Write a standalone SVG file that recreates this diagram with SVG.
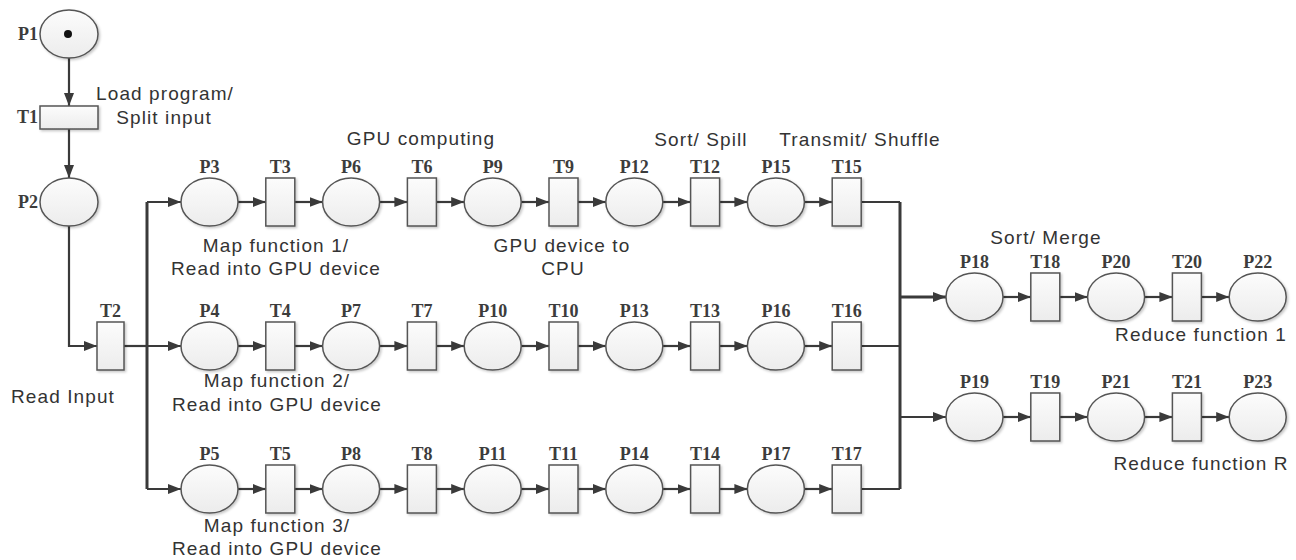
<svg xmlns="http://www.w3.org/2000/svg" width="1296" height="560" viewBox="0 0 1296 560">
<defs>
<linearGradient id="g" x1="0" y1="0" x2="0" y2="1"><stop offset="0" stop-color="#fcfcfc"/><stop offset="1" stop-color="#ececec"/></linearGradient>
<filter id="sh" x="-20%" y="-20%" width="150%" height="150%"><feDropShadow dx="1.5" dy="1.5" stdDeviation="1" flood-color="#000" flood-opacity="0.22"/></filter>
<marker id="ah" viewBox="0 0 13 10" refX="13" refY="5" markerWidth="13" markerHeight="10" markerUnits="userSpaceOnUse" orient="auto"><path d="M0,0 L13,5 L0,10 z" fill="#3a3a3a"/></marker>
</defs>
<style>
.pl{fill:url(#g);stroke:#555;stroke-width:1.5;filter:url(#sh)}
.tr{fill:url(#g);stroke:#555;stroke-width:1.5;filter:url(#sh)}
.lb{font-family:"Liberation Serif","Times New Roman",serif;font-size:18px;font-weight:bold;fill:#3c3c3c;text-anchor:middle}
.lbl{font-family:"Liberation Serif","Times New Roman",serif;font-size:18px;font-weight:bold;fill:#3c3c3c;text-anchor:end}
.tx{font-family:"Liberation Sans",Arial,sans-serif;font-size:19px;fill:#333;text-anchor:middle;letter-spacing:1.1px}
.e{stroke:#3a3a3a;stroke-width:2.2;fill:none}
.a{stroke:#3a3a3a;stroke-width:2.2;fill:none;marker-end:url(#ah)}
.b{stroke:#3a3a3a;stroke-width:3;fill:none}
</style>

<g id="connectors">
<path class="a" d="M69,58 V106"/>
<path class="a" d="M69,129 V178"/>
<path class="a" d="M69,226 V346 H97"/>
<path class="e" d="M124,346 H147"/>
<path class="b" d="M147,202 V489"/>
<path class="a" d="M147,202 H181"/>
<path class="a" d="M147,346 H181"/>
<path class="a" d="M147,489 H181"/>
<!-- row 1 -->
<path class="a" d="M238,202 H265.8"/><path class="a" d="M294.8,202 H322.6"/><path class="a" d="M379.6,202 H407.4"/><path class="a" d="M436.4,202 H464.2"/><path class="a" d="M521.2,202 H549"/><path class="a" d="M578,202 H605.8"/><path class="a" d="M662.8,202 H690.6"/><path class="a" d="M719.6,202 H747.4"/><path class="a" d="M804.4,202 H832.2"/><path class="e" d="M861.2,202 H900"/>
<!-- row 2 -->
<path class="a" d="M238,346 H265.8"/><path class="a" d="M294.8,346 H322.6"/><path class="a" d="M379.6,346 H407.4"/><path class="a" d="M436.4,346 H464.2"/><path class="a" d="M521.2,346 H549"/><path class="a" d="M578,346 H605.8"/><path class="a" d="M662.8,346 H690.6"/><path class="a" d="M719.6,346 H747.4"/><path class="a" d="M804.4,346 H832.2"/><path class="e" d="M861.2,346 H900"/>
<!-- row 3 -->
<path class="a" d="M238,489 H265.8"/><path class="a" d="M294.8,489 H322.6"/><path class="a" d="M379.6,489 H407.4"/><path class="a" d="M436.4,489 H464.2"/><path class="a" d="M521.2,489 H549"/><path class="a" d="M578,489 H605.8"/><path class="a" d="M662.8,489 H690.6"/><path class="a" d="M719.6,489 H747.4"/><path class="a" d="M804.4,489 H832.2"/><path class="e" d="M861.2,489 H900"/>
<path class="b" d="M900,202 V489"/>
<path class="a" d="M900,297 H946" style="stroke-width:3"/>
<path class="a" d="M900,417 H946"/>
<!-- reduce rows -->
<path class="a" d="M1003,297 H1030.8"/><path class="a" d="M1059.8,297 H1087.6"/><path class="a" d="M1144.6,297 H1172.4"/><path class="a" d="M1201.4,297 H1229.2"/>
<path class="a" d="M1003,417 H1030.8"/><path class="a" d="M1059.8,417 H1087.6"/><path class="a" d="M1144.6,417 H1172.4"/><path class="a" d="M1201.4,417 H1229.2"/>
</g>

<g id="P1"><ellipse class="pl" cx="69" cy="34" rx="29" ry="24"/><circle cx="68" cy="34" r="4" fill="#111"/><text class="lbl" x="38" y="40">P1</text></g>
<g id="T1"><rect class="tr" x="40" y="106" width="58" height="23"/><text class="lbl" x="38" y="123">T1</text></g>
<g id="P2"><ellipse class="pl" cx="69" cy="202" rx="29" ry="24"/><text class="lbl" x="38" y="208">P2</text></g>
<g id="T2"><rect class="tr" x="97" y="322" width="27" height="48"/><text class="lb" x="110.5" y="317">T2</text></g>

<g id="P3"><ellipse class="pl" cx="209.5" cy="202" rx="28.5" ry="24"/><text class="lb" x="209.5" y="173">P3</text></g>
<g id="T3"><rect class="tr" x="265.8" y="178" width="29" height="48"/><text class="lb" x="280.3" y="173">T3</text></g>
<g id="P6"><ellipse class="pl" cx="351.1" cy="202" rx="28.5" ry="24"/><text class="lb" x="351.1" y="173">P6</text></g>
<g id="T6"><rect class="tr" x="407.4" y="178" width="29" height="48"/><text class="lb" x="421.9" y="173">T6</text></g>
<g id="P9"><ellipse class="pl" cx="492.7" cy="202" rx="28.5" ry="24"/><text class="lb" x="492.7" y="173">P9</text></g>
<g id="T9"><rect class="tr" x="549" y="178" width="29" height="48"/><text class="lb" x="563.5" y="173">T9</text></g>
<g id="P12"><ellipse class="pl" cx="634.3" cy="202" rx="28.5" ry="24"/><text class="lb" x="634.3" y="173">P12</text></g>
<g id="T12"><rect class="tr" x="690.6" y="178" width="29" height="48"/><text class="lb" x="705.1" y="173">T12</text></g>
<g id="P15"><ellipse class="pl" cx="775.9" cy="202" rx="28.5" ry="24"/><text class="lb" x="775.9" y="173">P15</text></g>
<g id="T15"><rect class="tr" x="832.2" y="178" width="29" height="48"/><text class="lb" x="846.7" y="173">T15</text></g>

<g id="P4"><ellipse class="pl" cx="209.5" cy="346" rx="28.5" ry="24"/><text class="lb" x="209.5" y="317">P4</text></g>
<g id="T4"><rect class="tr" x="265.8" y="322" width="29" height="48"/><text class="lb" x="280.3" y="317">T4</text></g>
<g id="P7"><ellipse class="pl" cx="351.1" cy="346" rx="28.5" ry="24"/><text class="lb" x="351.1" y="317">P7</text></g>
<g id="T7"><rect class="tr" x="407.4" y="322" width="29" height="48"/><text class="lb" x="421.9" y="317">T7</text></g>
<g id="P10"><ellipse class="pl" cx="492.7" cy="346" rx="28.5" ry="24"/><text class="lb" x="492.7" y="317">P10</text></g>
<g id="T10"><rect class="tr" x="549" y="322" width="29" height="48"/><text class="lb" x="563.5" y="317">T10</text></g>
<g id="P13"><ellipse class="pl" cx="634.3" cy="346" rx="28.5" ry="24"/><text class="lb" x="634.3" y="317">P13</text></g>
<g id="T13"><rect class="tr" x="690.6" y="322" width="29" height="48"/><text class="lb" x="705.1" y="317">T13</text></g>
<g id="P16"><ellipse class="pl" cx="775.9" cy="346" rx="28.5" ry="24"/><text class="lb" x="775.9" y="317">P16</text></g>
<g id="T16"><rect class="tr" x="832.2" y="322" width="29" height="48"/><text class="lb" x="846.7" y="317">T16</text></g>

<g id="P5"><ellipse class="pl" cx="209.5" cy="489" rx="28.5" ry="24"/><text class="lb" x="209.5" y="460">P5</text></g>
<g id="T5"><rect class="tr" x="265.8" y="465" width="29" height="48"/><text class="lb" x="280.3" y="460">T5</text></g>
<g id="P8"><ellipse class="pl" cx="351.1" cy="489" rx="28.5" ry="24"/><text class="lb" x="351.1" y="460">P8</text></g>
<g id="T8"><rect class="tr" x="407.4" y="465" width="29" height="48"/><text class="lb" x="421.9" y="460">T8</text></g>
<g id="P11"><ellipse class="pl" cx="492.7" cy="489" rx="28.5" ry="24"/><text class="lb" x="492.7" y="460">P11</text></g>
<g id="T11"><rect class="tr" x="549" y="465" width="29" height="48"/><text class="lb" x="563.5" y="460">T11</text></g>
<g id="P14"><ellipse class="pl" cx="634.3" cy="489" rx="28.5" ry="24"/><text class="lb" x="634.3" y="460">P14</text></g>
<g id="T14"><rect class="tr" x="690.6" y="465" width="29" height="48"/><text class="lb" x="705.1" y="460">T14</text></g>
<g id="P17"><ellipse class="pl" cx="775.9" cy="489" rx="28.5" ry="24"/><text class="lb" x="775.9" y="460">P17</text></g>
<g id="T17"><rect class="tr" x="832.2" y="465" width="29" height="48"/><text class="lb" x="846.7" y="460">T17</text></g>

<g id="P18"><ellipse class="pl" cx="974.5" cy="297" rx="28.5" ry="24"/><text class="lb" x="974.5" y="268">P18</text></g>
<g id="T18"><rect class="tr" x="1030.8" y="273" width="29" height="48"/><text class="lb" x="1045.3" y="268">T18</text></g>
<g id="P20"><ellipse class="pl" cx="1116.1" cy="297" rx="28.5" ry="24"/><text class="lb" x="1116.1" y="268">P20</text></g>
<g id="T20"><rect class="tr" x="1172.4" y="273" width="29" height="48"/><text class="lb" x="1186.9" y="268">T20</text></g>
<g id="P22"><ellipse class="pl" cx="1257.7" cy="297" rx="28.5" ry="24"/><text class="lb" x="1257.7" y="268">P22</text></g>

<g id="P19"><ellipse class="pl" cx="974.5" cy="417" rx="28.5" ry="24"/><text class="lb" x="974.5" y="388">P19</text></g>
<g id="T19"><rect class="tr" x="1030.8" y="393" width="29" height="48"/><text class="lb" x="1045.3" y="388">T19</text></g>
<g id="P21"><ellipse class="pl" cx="1116.1" cy="417" rx="28.5" ry="24"/><text class="lb" x="1116.1" y="388">P21</text></g>
<g id="T21"><rect class="tr" x="1172.4" y="393" width="29" height="48"/><text class="lb" x="1186.9" y="388">T21</text></g>
<g id="P23"><ellipse class="pl" cx="1257.7" cy="417" rx="28.5" ry="24"/><text class="lb" x="1257.7" y="388">P23</text></g>

<g id="annotations">
<text class="tx" x="165" y="100">Load program/</text>
<text class="tx" x="164" y="124">Split input</text>
<text class="tx" x="421" y="145">GPU computing</text>
<text class="tx" x="701" y="146">Sort/ Spill</text>
<text class="tx" x="860" y="146">Transmit/ Shuffle</text>
<text class="tx" x="276" y="252">Map function 1/</text>
<text class="tx" x="276" y="275">Read into GPU device</text>
<text class="tx" x="562" y="252">GPU device to</text>
<text class="tx" x="563" y="275">CPU</text>
<text class="tx" x="277" y="387">Map function 2/</text>
<text class="tx" x="277" y="411">Read into GPU device</text>
<text class="tx" x="63" y="403">Read Input</text>
<text class="tx" x="277" y="532">Map function 3/</text>
<text class="tx" x="277" y="555">Read into GPU device</text>
<text class="tx" x="1046" y="244">Sort/ Merge</text>
<text class="tx" x="1201" y="341">Reduce function 1</text>
<text class="tx" x="1201" y="470">Reduce function R</text>
</g>
</svg>
